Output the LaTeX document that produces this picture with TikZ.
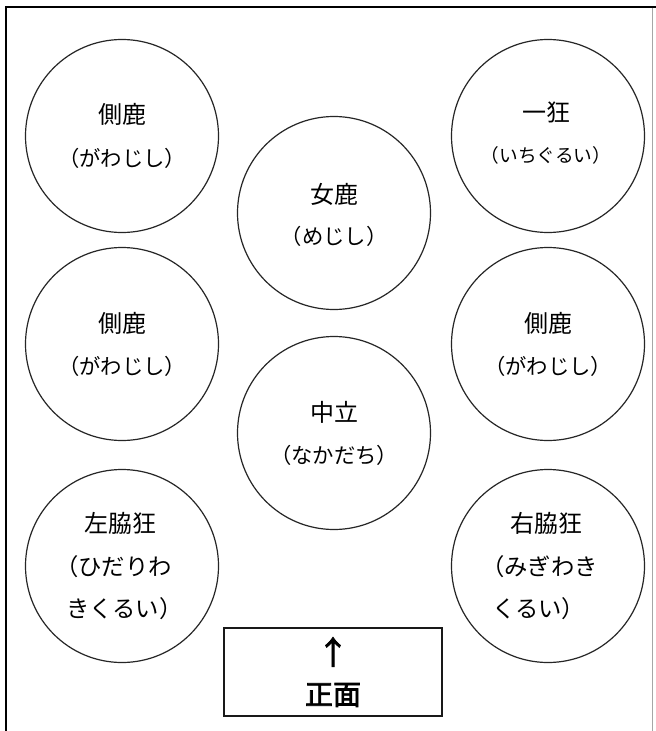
\documentclass[tikz,border=0pt]{standalone}
\usepackage{fontspec}
\newfontfamily\jp[AutoFakeBold=2.5]{Noto Sans CJK JP}
\begin{document}
\begin{tikzpicture}[x=0.75pt,y=-0.75pt,
  circ/.style={circle,draw=black!85,line width=0.9pt,minimum size=144.75pt,inner sep=0pt},
  kanji/.style={font=\jp\fontsize{18}{20}\selectfont,inner sep=0pt},
  kana/.style={font=\jp\fontsize{16}{18}\selectfont,inner sep=0pt},
  kanabig/.style={font=\jp\fontsize{17.5}{20}\selectfont,inner sep=0pt,anchor=west},
  kanasmall/.style={font=\jp\fontsize{14}{16}\selectfont,inner sep=0pt},
  frontbox/.style={draw=black!90,line width=1pt,minimum width=163.5pt,minimum height=66pt,inner sep=0pt}]
\useasboundingbox (0,0) rectangle (656,731);
\fill[white] (0,0) rectangle (656,731);
% frame
\coordinate (fbl) at (6,731);
\coordinate (ftl) at (6,7);
\coordinate (ftr) at (656,7);
\coordinate (frt) at (652,7);
\coordinate (frb) at (652,731);
\draw[black!35,line width=0.6pt] (frt) -- (frb);
\draw[black,line width=1.4pt] (fbl) -- (ftl) -- (ftr);
% circles
\node[circ] (tl) at (122,136) {};
\node[circ] (tr) at (548,136) {};
\node[circ] (cm) at (334,213) {};
\node[circ] (ml) at (122,344) {};
\node[circ] (mr) at (548,344) {};
\node[circ] (cc) at (334,433) {};
\node[circ] (bl) at (122,566) {};
\node[circ] (br) at (548,566) {};
% texts
\node[kanji] (tlk) at (122,114) {側鹿};
\node[kana] (tlh) at (122,158) {（がわじし）};
\node[kanji] (trk) at (546,112) {一狂};
\node[kanasmall] (trh) at (546,155) {（いちぐるい）};
\node[kanji] (cmk) at (334,194) {女鹿};
\node[kana] (cmh) at (334,236) {（めじし）};
\node[kanji] (mlk) at (122,323) {側鹿};
\node[kana] (mlh) at (122,366) {（がわじし）};
\node[kanji] (mrk) at (548,323) {側鹿};
\node[kana] (mrh) at (548,366) {（がわじし）};
\node[kanji] (cck) at (334,412) {中立};
\node[kana] (cch) at (334,455) {（なかだち）};
\node[kanji] (blk) at (120,523) {左脇狂};
\node[kanabig] (blh1) at (55,567) {（ひだりわ};
\node[kanabig] (blh2) at (66,609) {きくるい）};
\node[kanji] (brk) at (546,523) {右脇狂};
\node[kanabig] (brh1) at (481,567) {（みぎわき};
\node[kanabig] (brh2) at (492,609) {くるい）};
% front box
\node[frontbox] (front) at (333,672) {};
\node[font=\jp\fontsize{24}{26}\selectfont\bfseries,inner sep=0pt] (arr) at (333,652) {↑};
\node[font=\jp\fontsize{21}{24}\selectfont\bfseries,inner sep=0pt] (shomen) at (333,695) {正面};
\end{tikzpicture}
\end{document}
